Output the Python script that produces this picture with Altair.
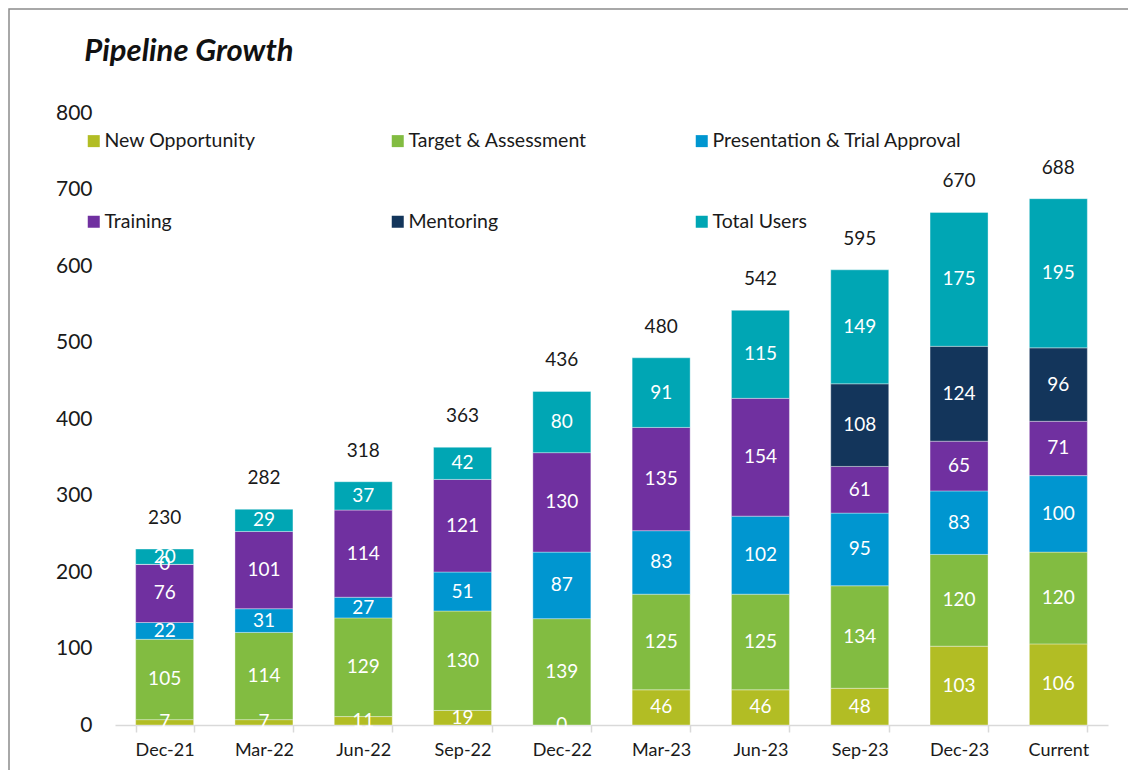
import altair as alt
import pandas as pd

periods = ["Dec-21", "Mar-22", "Jun-22", "Sep-22", "Dec-22", "Mar-23", "Jun-23", "Sep-23", "Dec-23", "Current"]
series = ["New Opportunity", "Target & Assessment", "Presentation & Trial Approval",
          "Training", "Mentoring", "Total Users"]
colors = ["#B2BD24", "#82BC41", "#0096D0", "#7030A0", "#13355B", "#00A6B4"]

new_opp = [7, 7, 11, 19, 0, 46, 46, 48, 103, 106]
target = [105, 114, 129, 130, 139, 125, 125, 134, 120, 120]
present = [22, 31, 27, 51, 87, 83, 102, 95, 83, 100]
training = [76, 101, 114, 121, 130, 135, 154, 61, 65, 71]
mentoring = [0, None, None, None, None, None, None, 108, 124, 96]
total_users = [20, 29, 37, 42, 80, 91, 115, 149, 175, 195]
totals = [230, 282, 318, 363, 436, 480, 542, 595, 670, 688]

y_ticks = [0, 100, 200, 300, 400, 500, 600, 700, 800]

rows = []
for i, p in enumerate(periods):
    for k, vals in enumerate([new_opp, target, present, training, mentoring, total_users]):
        v = vals[i]
        if v is None:
            continue
        rows.append({"period": p, "series": series[k], "value": v, "order": k})
df = pd.DataFrame(rows)
tot = pd.DataFrame({"period": periods, "total": totals})
frame_df = pd.DataFrame({"a": [0]})

FONT = "Lato"
TXT = "#1a1a1a"

x_enc = alt.X(
    "period:N", sort=periods,
    scale=alt.Scale(paddingInner=0.416, paddingOuter=0.208),
    axis=alt.Axis(title=None, labelAngle=0, tickBand="extent", domainColor="#D9D9D9",
                  tickColor="#D9D9D9", tickSize=7, domainWidth=1.5, tickWidth=1.5,
                  labelFontSize=18, labelPadding=9, labelColor=TXT, labelFont=FONT),
)
y_scale = alt.Scale(domain=[0, 800], nice=False)

frame = alt.Chart(frame_df).mark_rect(
    fillOpacity=0, stroke="#8c8c8c", strokeWidth=1.5
).encode(x=alt.value(-106), x2=alt.value(1200), y=alt.value(-104), y2=alt.value(900))

bars = alt.Chart(df).mark_bar(stroke="white", strokeWidth=0.6, strokeOpacity=0.6).encode(
    x=x_enc,
    y=alt.Y("value:Q", stack="zero", scale=y_scale,
            axis=alt.Axis(title=None, values=y_ticks, domain=False, ticks=False, grid=False,
                          labelFontSize=21, labelPadding=23, labelColor=TXT, labelFont=FONT)),
    color=alt.Color("series:N", scale=alt.Scale(domain=series, range=colors),
                    legend=alt.Legend(title=None, orient="none", legendX=-31, legendY=18,
                                      direction="horizontal", columns=3, gridAlign="all",
                                      symbolType="square", symbolSize=144, symbolStrokeWidth=0,
                                      labelFontSize=19.5, labelFont=FONT, labelColor=TXT,
                                      labelOffset=1, columnPadding=34, rowPadding=60,
                                      labelLimit=400)),
    order=alt.Order("order:Q", sort="ascending"),
)

seg_labels = alt.Chart(df).transform_stack(
    stack="value", groupby=["period"], as_=["v0", "v1"],
    sort=[alt.SortField("order", order="ascending")]
).transform_calculate(mid="(datum.v0 + datum.v1) / 2").mark_text(
    color="white", fontSize=19, font=FONT
).encode(x=x_enc, y=alt.Y("mid:Q", scale=y_scale), text="value:Q")

tot_labels = alt.Chart(tot).mark_text(
    dy=-31, fontSize=19, font=FONT, color=TXT
).encode(x=x_enc, y=alt.Y("total:Q", scale=y_scale), text="total:Q")

chart = alt.layer(frame, bars, seg_labels, tot_labels).properties(
    width=993, height=612,
    title=alt.TitleParams("Pipeline Growth", anchor="start", font=FONT, fontSize=31,
                          fontStyle="italic", fontWeight="bold", color="#111111",
                          dx=76, offset=0, dy=60),
    autosize=alt.AutoSizeParams(type="none"),
    padding={"left": 107, "top": 105, "right": 20, "bottom": 45},
).configure_view(stroke=None)

chart.save("out.html", embed_options={"renderer": "svg", "actions": False})
